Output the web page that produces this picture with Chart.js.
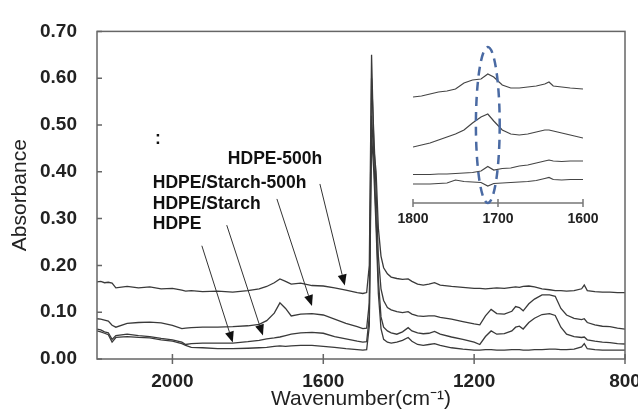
<!DOCTYPE html>
<html>
<head>
<meta charset="utf-8">
<script src="https://cdn.jsdelivr.net/npm/chart.js@4.4.0/dist/chart.umd.min.js"></script>
<style>
    html, body { margin: 0; padding: 0; background: #fff; }
    #wrap { position: relative; width: 638px; height: 416px; }
    #main { position: absolute; left: 0; top: 0; }
    #inset { position: absolute; left: 393px; top: 30px; pointer-events: none; }
</style>
</head>
<body>
<div id="wrap">
    <canvas id="main" width="638" height="416"></canvas>
    <canvas id="inset" width="210" height="200"></canvas>
</div>
<script>
// Wavenumbers (cm-1) shared by all four spectra
const wavenumbers = [2200, 2190, 2180, 2170, 2160, 2150, 2120, 2090, 2060, 2030, 2000, 1975, 1965, 1950, 1920, 1880, 1840, 1800, 1770, 1750, 1730, 1715, 1700, 1685, 1660, 1630, 1600, 1570, 1540, 1510, 1495, 1485, 1478, 1472, 1466, 1460, 1454, 1447, 1440, 1430, 1420, 1405, 1390, 1375, 1365, 1350, 1335, 1320, 1305, 1290, 1260, 1230, 1200, 1185, 1170, 1155, 1140, 1120, 1100, 1090, 1080, 1070, 1055, 1040, 1020, 1000, 985, 970, 955, 935, 915, 908, 900, 880, 860, 840, 820, 800];

const hdpe500h = [0.165, 0.166, 0.163, 0.164, 0.162, 0.152, 0.155, 0.152, 0.154, 0.150, 0.151, 0.147, 0.145, 0.146, 0.144, 0.145, 0.143, 0.146, 0.150, 0.155, 0.163, 0.171, 0.166, 0.160, 0.162, 0.157, 0.156, 0.152, 0.147, 0.142, 0.140, 0.142, 0.200, 0.650, 0.450, 0.400, 0.280, 0.220, 0.195, 0.182, 0.175, 0.172, 0.170, 0.171, 0.166, 0.160, 0.158, 0.160, 0.163, 0.158, 0.155, 0.153, 0.151, 0.151, 0.150, 0.151, 0.152, 0.151, 0.153, 0.154, 0.153, 0.155, 0.156, 0.154, 0.150, 0.148, 0.146, 0.146, 0.145, 0.146, 0.150, 0.158, 0.146, 0.144, 0.143, 0.143, 0.142, 0.142];

const starch500h = [0.086, 0.085, 0.083, 0.081, 0.072, 0.068, 0.076, 0.078, 0.079, 0.077, 0.072, 0.065, 0.066, 0.067, 0.068, 0.068, 0.069, 0.071, 0.074, 0.082, 0.098, 0.120, 0.108, 0.092, 0.096, 0.097, 0.094, 0.085, 0.076, 0.069, 0.065, 0.066, 0.120, 0.600, 0.480, 0.360, 0.220, 0.150, 0.125, 0.110, 0.105, 0.101, 0.099, 0.101, 0.096, 0.092, 0.091, 0.092, 0.092, 0.089, 0.085, 0.080, 0.075, 0.073, 0.092, 0.106, 0.097, 0.096, 0.102, 0.112, 0.110, 0.103, 0.118, 0.128, 0.137, 0.137, 0.134, 0.108, 0.094, 0.087, 0.084, 0.086, 0.078, 0.073, 0.070, 0.069, 0.066, 0.064];

const starch = [0.064, 0.062, 0.058, 0.056, 0.042, 0.050, 0.053, 0.050, 0.048, 0.044, 0.041, 0.036, 0.031, 0.033, 0.034, 0.034, 0.034, 0.037, 0.040, 0.043, 0.045, 0.047, 0.050, 0.053, 0.056, 0.057, 0.055, 0.048, 0.043, 0.038, 0.036, 0.037, 0.090, 0.520, 0.430, 0.300, 0.170, 0.090, 0.068, 0.060, 0.056, 0.053, 0.058, 0.067, 0.060, 0.056, 0.054, 0.055, 0.059, 0.053, 0.047, 0.042, 0.036, 0.031, 0.048, 0.060, 0.053, 0.054, 0.060, 0.068, 0.070, 0.064, 0.078, 0.087, 0.095, 0.097, 0.093, 0.068, 0.053, 0.048, 0.046, 0.047, 0.041, 0.038, 0.036, 0.035, 0.033, 0.032];

const hdpe = [0.060, 0.058, 0.055, 0.052, 0.036, 0.046, 0.048, 0.046, 0.045, 0.041, 0.038, 0.033, 0.029, 0.025, 0.024, 0.022, 0.022, 0.023, 0.024, 0.025, 0.027, 0.028, 0.027, 0.028, 0.029, 0.029, 0.027, 0.025, 0.022, 0.020, 0.019, 0.020, 0.070, 0.480, 0.400, 0.280, 0.140, 0.065, 0.042, 0.036, 0.034, 0.036, 0.040, 0.046, 0.038, 0.031, 0.029, 0.031, 0.033, 0.029, 0.024, 0.021, 0.019, 0.019, 0.020, 0.020, 0.019, 0.019, 0.020, 0.020, 0.020, 0.019, 0.019, 0.020, 0.020, 0.021, 0.021, 0.020, 0.020, 0.021, 0.026, 0.033, 0.022, 0.020, 0.019, 0.019, 0.019, 0.019];

const xTicks = [2000, 1600, 1200, 800];

// Inset: 1800-1600 cm-1 region, curves stacked with an offset
const insetWavenumbers = [1800, 1790, 1780, 1770, 1760, 1750, 1740, 1730, 1720, 1712, 1705, 1695, 1685, 1675, 1665, 1655, 1645, 1640, 1635, 1625, 1615, 1600];
const insetTop = [0.212, 0.214, 0.218, 0.222, 0.224, 0.228, 0.240, 0.246, 0.248, 0.258, 0.252, 0.236, 0.230, 0.230, 0.232, 0.234, 0.238, 0.242, 0.234, 0.232, 0.230, 0.228];
const insetSecond = [0.112, 0.116, 0.120, 0.126, 0.132, 0.138, 0.146, 0.160, 0.172, 0.178, 0.164, 0.146, 0.138, 0.136, 0.138, 0.142, 0.146, 0.146, 0.144, 0.140, 0.136, 0.130];
const insetThird = [0.057, 0.057, 0.057, 0.058, 0.058, 0.059, 0.060, 0.061, 0.064, 0.073, 0.066, 0.069, 0.070, 0.074, 0.076, 0.080, 0.084, 0.086, 0.084, 0.083, 0.084, 0.084];
const insetBottom = [0.038, 0.038, 0.038, 0.039, 0.040, 0.046, 0.043, 0.042, 0.041, 0.034, 0.039, 0.040, 0.041, 0.042, 0.043, 0.045, 0.049, 0.051, 0.047, 0.046, 0.047, 0.047];
const insetTicks = [1800, 1700, 1600];

// Labels with arrows, anchored in data units (wavenumber, absorbance)
const labels = [
    { text: 'HDPE-500h', wn: 1853, abs: 0.428 },
    { text: 'HDPE/Starch-500h', wn: 2052, abs: 0.376 },
    { text: 'HDPE/Starch', wn: 2052, abs: 0.330 },
    { text: 'HDPE', wn: 2052, abs: 0.288 },
    { text: ':', wn: 2046, abs: 0.470 }
];
const arrows = [
    { from: [1609, 0.374], to: [1543, 0.157] },
    { from: [1723, 0.342], to: [1630, 0.113] },
    { from: [1856, 0.286], to: [1760, 0.050] },
    { from: [1922, 0.242], to: [1840, 0.035] }
];

const FONT = 'Arial, "Liberation Sans", sans-serif';
const INK = '#222';

function toPoints(xs, ys) {
    return xs.map((x, i) => ({ x: x, y: ys[i] }));
}

function drawArrow(ctx, x1, y1, x2, y2) {
    const ang = Math.atan2(y2 - y1, x2 - x1);
    const len = 11, half = 4.5;
    const bx = x2 - len * Math.cos(ang), by = y2 - len * Math.sin(ang);
    ctx.beginPath();
    ctx.moveTo(x1, y1);
    ctx.lineTo(bx, by);
    ctx.stroke();
    ctx.beginPath();
    ctx.moveTo(x2, y2);
    ctx.lineTo(bx + half * Math.sin(ang), by - half * Math.cos(ang));
    ctx.lineTo(bx - half * Math.sin(ang), by + half * Math.cos(ang));
    ctx.closePath();
    ctx.fill();
}

const framePlugin = {
    id: 'frame',
    afterDatasetsDraw(chart) {
        const { ctx, chartArea: a, scales: { x, y } } = chart;
        ctx.save();
        // plot box
        ctx.strokeStyle = '#666';
        ctx.lineWidth = 1.5;
        ctx.strokeRect(a.left, a.top, a.right - a.left, a.bottom - a.top);
        // tick marks
        ctx.beginPath();
        x.ticks.forEach(t => {
            const px = x.getPixelForValue(t.value);
            ctx.moveTo(px, a.bottom - 5);
            ctx.lineTo(px, a.bottom + 5);
        });
        y.ticks.forEach(t => {
            const py = y.getPixelForValue(t.value);
            ctx.moveTo(a.left, py);
            ctx.lineTo(a.left + 5, py);
        });
        ctx.stroke();
        // arrows
        ctx.strokeStyle = '#333';
        ctx.fillStyle = '#111';
        ctx.lineWidth = 1;
        arrows.forEach(ar => {
            drawArrow(ctx,
                x.getPixelForValue(ar.from[0]), y.getPixelForValue(ar.from[1]),
                x.getPixelForValue(ar.to[0]), y.getPixelForValue(ar.to[1]));
        });
        // labels
        ctx.fillStyle = '#111';
        ctx.font = 'bold 17.5px ' + FONT;
        ctx.textAlign = 'left';
        ctx.textBaseline = 'middle';
        labels.forEach(l => {
            ctx.fillText(l.text, x.getPixelForValue(l.wn), y.getPixelForValue(l.abs));
        });
        ctx.restore();
    }
};

const seriesList = [hdpe500h, starch500h, starch, hdpe];
const seriesNames = ['HDPE-500h', 'HDPE/Starch-500h', 'HDPE/Starch', 'HDPE'];

new Chart(document.getElementById('main'), {
    type: 'line',
    data: {
        datasets: seriesList.map((vals, i) => ({
            label: seriesNames[i],
            data: toPoints(wavenumbers, vals),
            borderColor: '#3a3a3a',
            borderWidth: 1.3,
            pointRadius: 0,
            tension: 0
        }))
    },
    options: {
        responsive: false,
        animation: false,
        devicePixelRatio: 1,
        layout: { padding: { left: 0, top: 24, right: 13, bottom: 0 } },
        plugins: {
            legend: { display: false },
            tooltip: { enabled: false }
        },
        scales: {
            x: {
                type: 'linear',
                reverse: true,
                min: 800,
                max: 2200,
                grid: { display: false, drawTicks: false },
                border: { display: false },
                afterBuildTicks: (s) => { s.ticks = xTicks.map(v => ({ value: v })); },
                afterFit: (s) => { s.height = 57; s.paddingLeft = 0; s.paddingRight = 0; },
                ticks: {
                    font: { family: FONT, size: 19, weight: 'bold' },
                    color: INK,
                    padding: 11,
                    maxRotation: 0,
                    callback: (v) => String(v)
                },
                title: {
                    display: true,
                    text: 'Wavenumber(cm\u207B\u00B9)',
                    font: { family: FONT, size: 21 },
                    color: INK,
                    padding: { top: 0, bottom: 4 }
                }
            },
            y: {
                min: 0,
                max: 0.7,
                grid: { display: false, drawTicks: false },
                border: { display: false },
                afterFit: (s) => { s.width = 97; },
                ticks: {
                    stepSize: 0.1,
                    font: { family: FONT, size: 19, weight: 'bold' },
                    color: INK,
                    padding: 20,
                    callback: (v) => v.toFixed(2)
                },
                title: {
                    display: true,
                    text: 'Absorbance',
                    font: { family: FONT, size: 21 },
                    color: INK,
                    padding: { top: 8, bottom: 0 }
                }
            }
        }
    },
    plugins: [framePlugin]
});

// Inset
const insetPlugin = {
    id: 'insetAxis',
    afterDatasetsDraw(chart) {
        const { ctx, scales: { x, y } } = chart;
        const y0 = y.getPixelForValue(0);
        ctx.save();
        ctx.strokeStyle = '#777';
        ctx.lineWidth = 1.5;
        ctx.beginPath();
        ctx.moveTo(x.getPixelForValue(1800), y0);
        ctx.lineTo(x.getPixelForValue(1600), y0);
        insetTicks.forEach(v => {
            const px = x.getPixelForValue(v);
            ctx.moveTo(px, y0 - 4);
            ctx.lineTo(px, y0 + 4);
        });
        ctx.stroke();
        // dashed ellipse around the carbonyl band
        const cx = x.getPixelForValue(1712);
        const rx = Math.abs(x.getPixelForValue(1698) - cx);
        const cy = y.getPixelForValue(0.156);
        const ry = Math.abs(y.getPixelForValue(0) - cy);
        ctx.strokeStyle = '#4a6aa3';
        ctx.lineWidth = 2.5;
        ctx.setLineDash([9, 6]);
        ctx.beginPath();
        ctx.ellipse(cx, cy, rx, ry, 0, 0, Math.PI * 2);
        ctx.stroke();
        ctx.restore();
    }
};

new Chart(document.getElementById('inset'), {
    type: 'line',
    data: {
        datasets: [insetTop, insetSecond, insetThird, insetBottom].map(vals => ({
            data: toPoints(insetWavenumbers, vals),
            borderColor: '#444',
            borderWidth: 1.2,
            pointRadius: 0,
            tension: 0
        }))
    },
    options: {
        responsive: false,
        animation: false,
        devicePixelRatio: 1,
        layout: { padding: { left: 20, right: 20, top: 8, bottom: 0 } },
        plugins: {
            legend: { display: false },
            tooltip: { enabled: false }
        },
        scales: {
            x: {
                type: 'linear',
                reverse: true,
                min: 1600,
                max: 1800,
                grid: { display: false, drawTicks: false },
                border: { display: false },
                afterBuildTicks: (s) => { s.ticks = insetTicks.map(v => ({ value: v })); },
                afterFit: (s) => { s.height = 27; s.paddingLeft = 0; s.paddingRight = 0; },
                ticks: {
                    font: { family: FONT, size: 14, weight: 'bold' },
                    color: INK,
                    padding: 8,
                    maxRotation: 0,
                    callback: (v) => String(v)
                }
            },
            y: { display: false, min: 0, max: 0.33 }
        }
    },
    plugins: [insetPlugin]
});
</script>
</body>
</html>
